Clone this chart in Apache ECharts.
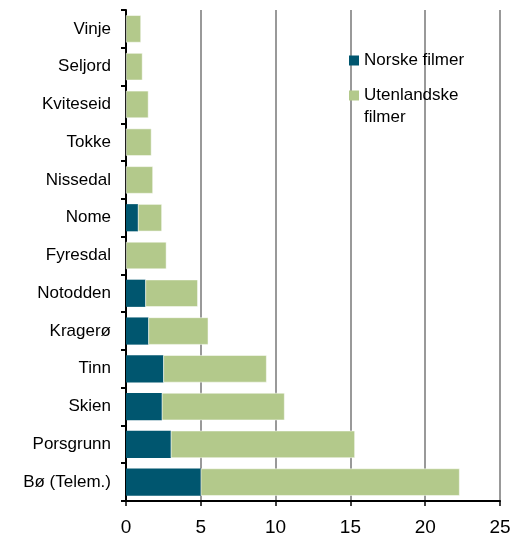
<!DOCTYPE html>
<html>
<head>
<meta charset="utf-8">
<script src="https://cdn.jsdelivr.net/npm/echarts@6/dist/echarts.min.js"></script>
<style>
  html, body { margin: 0; padding: 0; background: #fff; }
  #chart { width: 513px; height: 533px; }
</style>
</head>
<body>
<div id="chart"></div>
<script>
  // kommuner, nederst først (ECharts tegner kategori 0 nederst)
  const categories = ['Bø (Telem.)', 'Porsgrunn', 'Skien', 'Tinn', 'Kragerø', 'Notodden',
    'Fyresdal', 'Nome', 'Nissedal', 'Tokke', 'Kviteseid', 'Seljord', 'Vinje'];
  const norske = [5.0, 3.0, 2.4, 2.5, 1.5, 1.3, 0, 0.8, 0, 0, 0, 0, 0];
  const utenlandske = [17.3, 12.3, 8.2, 6.9, 4.0, 3.5, 2.7, 1.6, 1.8, 1.7, 1.5, 1.1, 1.0];
  const xTicks = [0, 5, 10, 15, 20, 25];

  const font = 'Liberation Sans, Arial, sans-serif';
  const chart = echarts.init(document.getElementById('chart'));

  chart.setOption({
    backgroundColor: '#fff',
    animation: false,
    grid: { left: 126, right: 13, top: 10, bottom: 32, containLabel: false, outerBoundsMode: 'none' },
    legend: [{
      data: ['Norske filmer'],
      left: 344, top: 47,
      itemWidth: 10, itemHeight: 10, itemGap: 4,
      icon: 'rect',
      itemStyle: { borderWidth: 0 },
      textStyle: { fontFamily: font, fontSize: 17, color: '#000' }
    }, {
      data: ['Utenlandske filmer'],
      left: 344, top: 60,
      itemWidth: 10, itemHeight: 10,
      icon: 'rect',
      itemStyle: { borderWidth: 0 },
      // tom første linje så ikonet står ved «Utenlandske»
      formatter: name => '{a|}\n{a|Utenlandske}\n{a|filmer}',
      textStyle: {
        fontFamily: font, fontSize: 17, color: '#000',
        rich: { a: { fontFamily: font, fontSize: 17, color: '#000', lineHeight: 22 } }
      }
    }],
    xAxis: {
      type: 'value',
      min: xTicks[0], max: xTicks[xTicks.length - 1], interval: 5,
      axisLine: { show: true, lineStyle: { color: '#000', width: 2 } },
      axisTick: { show: true, length: 5, lineStyle: { color: '#000', width: 1.5 } },
      axisLabel: { fontFamily: font, fontSize: 19, color: '#000', margin: 17 },
      splitLine: { show: true, lineStyle: { color: '#999', width: 2 } }
    },
    yAxis: {
      type: 'category',
      data: categories,
      axisLine: { lineStyle: { color: '#000', width: 2 } },
      axisTick: { show: true, length: 5, lineStyle: { color: '#000', width: 2 } },
      axisLabel: { fontFamily: font, fontSize: 17, color: '#000', margin: 15 }
    },
    series: [{
      name: 'Norske filmer',
      type: 'bar',
      stack: 'tot',
      barWidth: '72%',
      itemStyle: { color: '#00566F' },
      data: norske
    }, {
      name: 'Utenlandske filmer',
      type: 'bar',
      stack: 'tot',
      itemStyle: { color: '#B3C98B', borderColor: '#fff', borderWidth: 0.5 },
      data: utenlandske
    }]
  });
</script>
</body>
</html>
